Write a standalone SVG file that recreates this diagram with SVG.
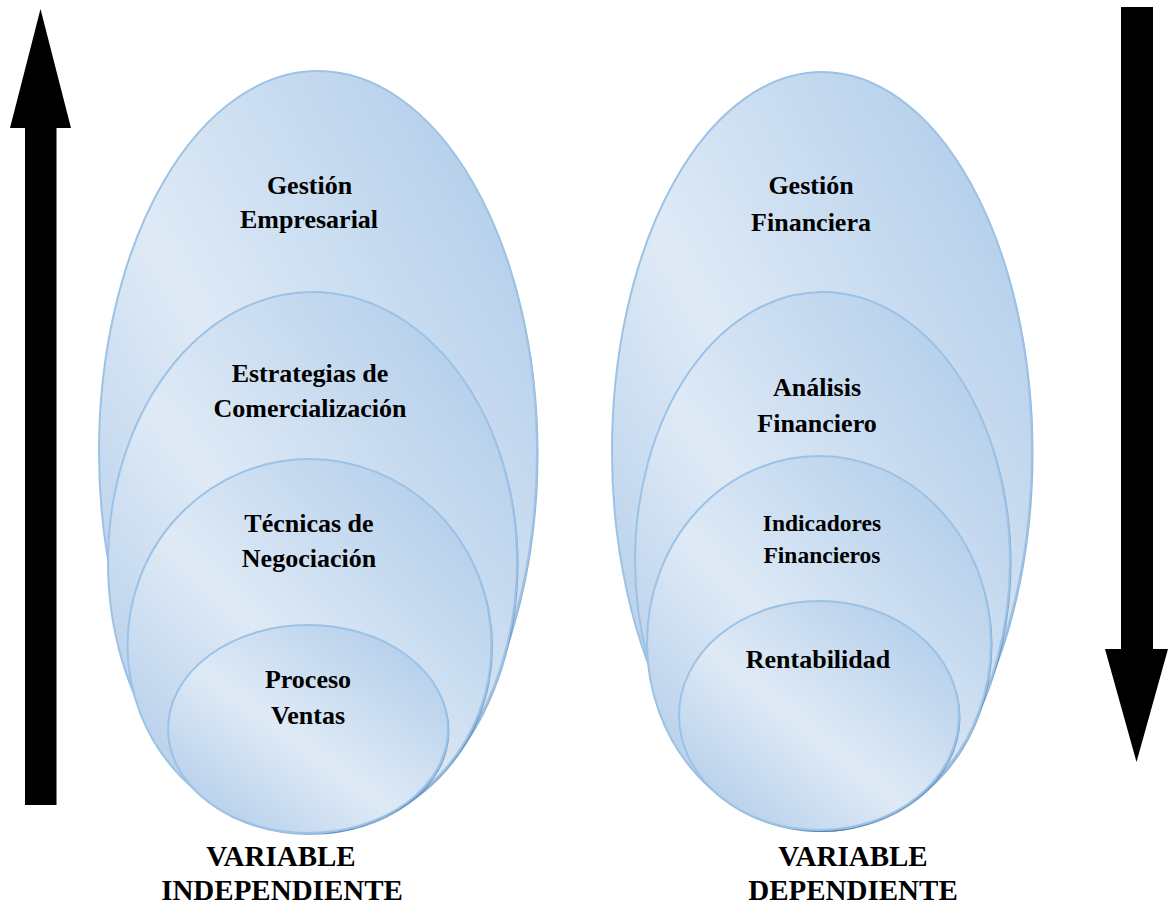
<svg xmlns="http://www.w3.org/2000/svg" width="1168" height="906" viewBox="0 0 1168 906">
  <defs>
    <!-- soft blue sheen: darker at the lower-left and upper-right, light through the middle -->
    <linearGradient id="sheen" x1="0" y1="1" x2="1" y2="0">
      <stop offset="0" stop-color="#a9c7e7"/>
      <stop offset="0.45" stop-color="#dfeaf6"/>
      <stop offset="1" stop-color="#a9c8e8"/>
    </linearGradient>
    <style>
      .bubble { fill: url(#sheen); stroke: #9cc2e6; stroke-width: 2; }
      .shade { fill: #4f7fb3; opacity: 0.6; }
      .lbl { font-family: "Liberation Serif", "Times New Roman", serif; font-weight: bold; font-size: 26px; fill: #000; text-anchor: middle; }
      .small { font-size: 23.5px; }
      .caption { font-size: 29px; }
      .arrow { fill: #000; }
    </style>
  </defs>

  <rect width="1168" height="906" fill="#fff"/>

  <!-- direction arrows -->
  <g id="connectors">
    <polygon class="arrow" points="40.5,9 71,128 56.5,128 56.5,805 25,805 25,128 10,128"/>
    <polygon class="arrow" points="1121,7 1153,7 1153,649 1168,649 1136.5,762 1105,649 1121,649"/>
  </g>

  <!-- independent variable stack -->
  <g id="gestion-empresarial">
    <ellipse class="shade" cx="319.5" cy="453.5" rx="219" ry="380.5"/>
    <ellipse class="bubble" cx="318" cy="451.5" rx="219" ry="380.5"/>
    <text class="lbl" x="309.5" y="194">Gestión</text>
    <text class="lbl" x="309" y="228">Empresarial</text>
  </g>
  <g id="estrategias-comercializacion">
    <ellipse class="shade" cx="314" cy="564" rx="204.5" ry="270"/>
    <ellipse class="bubble" cx="312.5" cy="562" rx="204.5" ry="270"/>
    <text class="lbl" x="310" y="382">Estrategias de</text>
    <text class="lbl" x="310" y="417">Comercialización</text>
  </g>
  <g id="tecnicas-negociacion">
    <ellipse class="shade" cx="311" cy="647" rx="182" ry="186"/>
    <ellipse class="bubble" cx="309.5" cy="645" rx="182" ry="186"/>
    <text class="lbl" x="309" y="532">Técnicas de</text>
    <text class="lbl" x="309" y="567">Negociación</text>
  </g>
  <g id="proceso-ventas">
    <ellipse class="shade" cx="309.5" cy="731" rx="140" ry="104"/>
    <ellipse class="bubble" cx="308" cy="729" rx="140" ry="104"/>
    <text class="lbl" x="308" y="688">Proceso</text>
    <text class="lbl" x="308" y="724">Ventas</text>
  </g>
  <g id="variable-independiente">
    <text class="lbl caption" x="281" y="866">VARIABLE</text>
    <text class="lbl caption" x="282" y="900">INDEPENDIENTE</text>
  </g>

  <!-- dependent variable stack -->
  <g id="gestion-financiera">
    <ellipse class="shade" cx="823.5" cy="453" rx="210" ry="379"/>
    <ellipse class="bubble" cx="822" cy="451" rx="210" ry="379"/>
    <text class="lbl" x="811" y="194">Gestión</text>
    <text class="lbl" x="811" y="231">Financiera</text>
  </g>
  <g id="analisis-financiero">
    <ellipse class="shade" cx="824" cy="563" rx="187.5" ry="269"/>
    <ellipse class="bubble" cx="822.5" cy="561" rx="187.5" ry="269"/>
    <text class="lbl" x="817" y="396">Análisis</text>
    <text class="lbl" x="817" y="432">Financiero</text>
  </g>
  <g id="indicadores-financieros">
    <ellipse class="shade" cx="820.5" cy="645" rx="172" ry="187"/>
    <ellipse class="bubble" cx="819" cy="643" rx="172" ry="187"/>
    <text class="lbl small" x="822" y="531">Indicadores</text>
    <text class="lbl small" x="822" y="563">Financieros</text>
  </g>
  <g id="rentabilidad">
    <ellipse class="shade" cx="820.5" cy="717.5" rx="140" ry="114.5"/>
    <ellipse class="bubble" cx="819" cy="715.5" rx="140" ry="114.5"/>
    <text class="lbl" x="818" y="668">Rentabilidad</text>
  </g>
  <g id="variable-dependiente">
    <text class="lbl caption" x="853" y="866">VARIABLE</text>
    <text class="lbl caption" x="853" y="900">DEPENDIENTE</text>
  </g>
</svg>
